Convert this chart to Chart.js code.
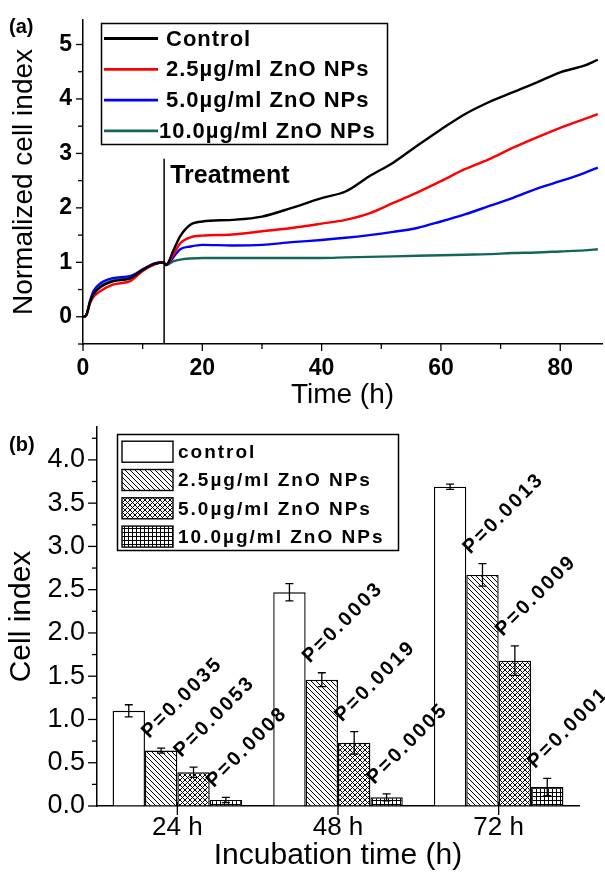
<!DOCTYPE html>
<html>
<head>
<meta charset="utf-8">
<script src="https://cdn.jsdelivr.net/npm/chart.js@4.4.1/dist/chart.umd.min.js"></script>
<style>
  html, body { margin: 0; padding: 0; background: #fff; }
  #wrap { position: relative; width: 605px; height: 873px; overflow: hidden; }
  canvas { position: absolute; left: 0; }
</style>
</head>
<body>
<div id="wrap">
  <canvas id="chartA" width="605" height="420" style="top:0"></canvas>
  <canvas id="chartB" width="605" height="453" style="top:420px"></canvas>
</div>
<script>
// ---- panel (a): normalized cell index over time ----
const hours     = [0, 0.5, 1.2, 1.8, 3, 5, 8, 10, 12, 13.5, 13.9, 15.2, 16.3, 18, 20, 25, 30, 35, 40, 44, 48, 52, 56, 60, 64, 68, 72, 76, 80, 84, 86.3];
const ciControl = [0, 0.02, 0.28, 0.42, 0.55, 0.65, 0.71, 0.86, 0.97, 1.0, 0.95, 1.23, 1.48, 1.69, 1.75, 1.78, 1.84, 2.0, 2.18, 2.3, 2.58, 2.83, 3.14, 3.44, 3.72, 3.94, 4.12, 4.3, 4.49, 4.61, 4.72];
const ci25      = [0, 0.02, 0.25, 0.37, 0.48, 0.59, 0.66, 0.84, 0.96, 1.0, 0.95, 1.15, 1.35, 1.46, 1.49, 1.51, 1.57, 1.63, 1.71, 1.78, 1.9, 2.09, 2.28, 2.49, 2.71, 2.89, 3.1, 3.29, 3.47, 3.63, 3.72];
const ci50      = [0, 0.02, 0.3, 0.48, 0.62, 0.71, 0.75, 0.87, 0.98, 1.0, 0.95, 1.1, 1.24, 1.29, 1.32, 1.31, 1.32, 1.37, 1.41, 1.45, 1.5, 1.56, 1.63, 1.75, 1.88, 2.03, 2.18, 2.35, 2.49, 2.64, 2.74];
const ci100     = [0, 0.02, 0.28, 0.44, 0.57, 0.67, 0.72, 0.86, 0.97, 1.0, 0.95, 1.02, 1.05, 1.07, 1.08, 1.08, 1.08, 1.08, 1.08, 1.09, 1.1, 1.11, 1.12, 1.13, 1.14, 1.15, 1.17, 1.18, 1.2, 1.22, 1.24];
const lineLabels = ['Control', '2.5µg/ml ZnO NPs', '5.0µg/ml ZnO NPs', '10.0µg/ml ZnO NPs'];
const treatmentTime = 13.6;
const treatmentTop = 2.9;

// ---- panel (b): cell index at 24/48/72 h ----
const timePoints = ['24 h', '48 h', '72 h'];
const barLabels = ['control', '2.5µg/ml ZnO NPs', '5.0µg/ml ZnO NPs', '10.0µg/ml ZnO NPs'];
const barControl = [1.10, 2.47, 3.69];
const bar25      = [0.64, 1.46, 2.67];
const bar50      = [0.39, 0.73, 1.68];
const bar100     = [0.07, 0.10, 0.22];
const errControl = [0.07, 0.10, 0.03];
const err25      = [0.03, 0.08, 0.13];
const err50      = [0.06, 0.13, 0.17];
const err100     = [0.03, 0.04, 0.10];
const pValues25  = ['P=0.0035', 'P=0.0003', 'P=0.0013'];
const pValues50  = ['P=0.0053', 'P=0.0019', 'P=0.0009'];
const pValues100 = ['P=0.0008', 'P=0.0005', 'P=0.0001'];

const FONT = "'Liberation Sans', Arial, sans-serif";
const BLACK = '#000';

function spaced(ctx, px) { if ('letterSpacing' in ctx) ctx.letterSpacing = px + 'px'; }

// fixed axis boxes so the plot areas land where the figure has them
function fixBox(w, h) {
  return s => {
    if (w != null) s.width = w;
    if (h != null) s.height = h;
    s.paddingTop = s.paddingBottom = s.paddingLeft = s.paddingRight = 0;
  };
}
function keepStep(step) {
  return s => { s.ticks = s.ticks.filter(t => Math.abs(t.value / step - Math.round(t.value / step)) < 1e-6); };
}

// tick marks: long where labelled, short otherwise
const tickMarks = {
  id: 'tickMarks',
  afterDraw(chart, args, opts) {
    const { ctx } = chart;
    ctx.save();
    ctx.strokeStyle = BLACK;
    ctx.lineWidth = 1.3;
    Object.values(chart.scales).forEach(s => {
      s.ticks.forEach((t, i) => {
        const len = t.label !== '' ? opts.major : opts.minor;
        const p = s.getPixelForTick(i);
        ctx.beginPath();
        if (s.isHorizontal()) { ctx.moveTo(p, s.top - opts.cross); ctx.lineTo(p, s.top + len); }
        else { ctx.moveTo(s.right, p); ctx.lineTo(s.right - len, p); }
        ctx.stroke();
      });
    });
    ctx.restore();
  }
};

function lineSet(label, values, color) {
  return {
    label, borderColor: color, backgroundColor: color,
    data: hours.map((h, i) => ({ x: h, y: values[i] }))
  };
}

const panelA = {
  id: 'panelA',
  afterDatasetsDraw(chart) {
    const { ctx, scales: { x, y } } = chart;
    ctx.save();
    // treatment marker
    const tx = x.getPixelForValue(treatmentTime);
    ctx.strokeStyle = BLACK;
    ctx.lineWidth = 1.5;
    ctx.beginPath();
    ctx.moveTo(tx, y.getPixelForValue(treatmentTop));
    ctx.lineTo(tx, y.bottom);
    ctx.stroke();
    ctx.fillStyle = BLACK;
    ctx.font = 'bold 25px ' + FONT;
    ctx.textBaseline = 'alphabetic';
    ctx.fillText('Treatment', tx + 6, 183);

    // legend box
    ctx.lineWidth = 1.5;
    ctx.strokeRect(101.5, 23.5, 286, 121);
    ctx.font = 'bold 22px ' + FONT;
    spaced(ctx, 1);
    ctx.textBaseline = 'middle';
    chart.data.datasets.forEach((ds, i) => {
      const ly = 38.5 + i * 30.8;
      ctx.strokeStyle = ds.borderColor;
      ctx.lineWidth = 2.8;
      ctx.beginPath(); ctx.moveTo(104, ly); ctx.lineTo(158, ly); ctx.stroke();
      ctx.fillText(ds.label, i === 3 ? 159 : 166, ly + 1);
    });
    spaced(ctx, 0);
    ctx.font = 'bold 20px ' + FONT;
    ctx.textBaseline = 'alphabetic';
    ctx.fillText('(a)', 9, 33);
    ctx.restore();
  }
};

new Chart(document.getElementById('chartA'), {
  type: 'line',
  data: {
    datasets: [
      lineSet(lineLabels[0], ciControl, '#000000'),
      lineSet(lineLabels[1], ci25, '#ff0000'),
      lineSet(lineLabels[2], ci50, '#0000ff'),
      lineSet(lineLabels[3], ci100, '#14665c')
    ]
  },
  options: {
    responsive: false,
    animation: false,
    devicePixelRatio: 1,
    layout: { padding: { top: 20, right: 3, left: 0, bottom: 0 } },
    plugins: { legend: { display: false }, tooltip: { enabled: false }, tickMarks: { major: 7, minor: 5, cross: 0 } },
    elements: { point: { radius: 0 }, line: { borderWidth: 2.4, cubicInterpolationMode: 'monotone' } },
    scales: {
      x: {
        type: 'linear', min: 0, max: 87,
        afterFit: fixBox(null, 76),
        afterBuildTicks: keepStep(10),
        ticks: {
          stepSize: 10, includeBounds: false, maxTicksLimit: 100, autoSkip: false, maxRotation: 0, padding: 11, color: BLACK,
          font: { family: FONT, size: 23, weight: 'bold' },
          callback: v => (Math.round(v) % 20 === 0 ? String(Math.round(v)) : '')
        },
        grid: { drawOnChartArea: false, drawTicks: false },
        border: { color: BLACK, width: 1.5 },
        title: { display: true, text: 'Time (h)', color: BLACK, font: { family: FONT, size: 28 }, padding: { top: 0, bottom: 8 } }
      },
      y: {
        min: -0.5, max: 5.45,
        afterFit: fixBox(83, null),
        afterBuildTicks: keepStep(0.5),
        ticks: {
          stepSize: 0.5, includeBounds: false, maxTicksLimit: 100, autoSkip: false, padding: 11, color: BLACK,
          font: { family: FONT, size: 23, weight: 'bold' },
          callback: v => (Math.abs(v - Math.round(v)) < 1e-6 ? String(Math.round(v)) : '')
        },
        grid: { drawOnChartArea: false, drawTicks: false },
        border: { color: BLACK, width: 1.5 },
        title: { display: true, text: 'Normalized cell index', color: BLACK, font: { family: FONT, size: 28 }, padding: { top: 7, bottom: 0 } }
      }
    }
  },
  plugins: [panelA, tickMarks]
});

// ---- hatch fills for panel (b) ----
function hatch(kind) {
  const s = kind === 'grid' ? 4 : 5;
  const c = document.createElement('canvas');
  c.width = s; c.height = s;
  const g = c.getContext('2d');
  g.fillStyle = '#fff';
  g.fillRect(0, 0, s, s);
  g.strokeStyle = BLACK;
  g.lineWidth = 1;
  g.beginPath();
  if (kind === 'back' || kind === 'cross') {
    for (let k = -1; k <= 1; k++) { g.moveTo(k * s, 0); g.lineTo(k * s + s, s); }
  }
  if (kind === 'cross') {
    for (let k = -1; k <= 1; k++) { g.moveTo(k * s, s); g.lineTo(k * s + s, 0); }
  }
  if (kind === 'grid') {
    g.moveTo(0.5, 0); g.lineTo(0.5, s);
    g.moveTo(0, 0.5); g.lineTo(s, 0.5);
  }
  g.stroke();
  return g.createPattern(c, 'repeat');
}

function barSet(label, values, errors, fill, pLabels) {
  return {
    label, data: values, errors, pLabels,
    backgroundColor: fill, borderColor: BLACK, borderWidth: 1.4
  };
}

const panelB = {
  id: 'panelB',
  afterDatasetsDraw(chart) {
    const { ctx, scales: { y } } = chart;
    ctx.save();
    ctx.strokeStyle = BLACK;
    ctx.fillStyle = BLACK;
    ctx.lineWidth = 1.3;
    chart.data.datasets.forEach((ds, di) => {
      const meta = chart.getDatasetMeta(di);
      meta.data.forEach((bar, i) => {
        const v = ds.data[i], e = ds.errors[i];
        const yt = y.getPixelForValue(v + e), yb = y.getPixelForValue(v - e);
        ctx.beginPath();
        ctx.moveTo(bar.x, yt); ctx.lineTo(bar.x, yb);
        ctx.moveTo(bar.x - 4, yt); ctx.lineTo(bar.x + 4, yt);
        ctx.moveTo(bar.x - 4, yb); ctx.lineTo(bar.x + 4, yb);
        ctx.stroke();
        if (ds.pLabels) {
          ctx.save();
          ctx.translate(bar.x - bar.width / 2 + 4, yt - 9);
          ctx.rotate(-Math.PI / 4);
          ctx.font = 'bold 20px ' + FONT;
          spaced(ctx, 2.4);
          ctx.textBaseline = 'alphabetic';
          ctx.fillText(ds.pLabels[i], 0, 0);
          ctx.restore();
        }
      });
    });

    // legend box
    ctx.lineWidth = 1.5;
    ctx.strokeRect(117.5, 14.5, 281, 116);
    ctx.font = 'bold 19px ' + FONT;
    spaced(ctx, 2);
    ctx.textBaseline = 'middle';
    chart.data.datasets.forEach((ds, i) => {
      const ly = 31.7 + i * 28.3;
      ctx.fillStyle = ds.backgroundColor;
      ctx.fillRect(122, ly - 10.5, 51, 21);
      ctx.lineWidth = 1.4;
      ctx.strokeRect(122, ly - 10.5, 51, 21);
      ctx.fillStyle = BLACK;
      ctx.fillText(ds.label, 178, ly + 1);
    });
    spaced(ctx, 0);
    ctx.font = 'bold 20px ' + FONT;
    ctx.textBaseline = 'alphabetic';
    ctx.fillText('(b)', 9, 31);
    ctx.restore();
  }
};

new Chart(document.getElementById('chartB'), {
  type: 'bar',
  data: {
    labels: timePoints,
    datasets: [
      barSet(barLabels[0], barControl, errControl, '#ffffff', null),
      barSet(barLabels[1], bar25, err25, hatch('back'), pValues25),
      barSet(barLabels[2], bar50, err50, hatch('cross'), pValues50),
      barSet(barLabels[3], bar100, err100, hatch('grid'), pValues100)
    ]
  },
  options: {
    responsive: false,
    animation: false,
    devicePixelRatio: 1,
    layout: { padding: { top: 7, right: 26, left: 0, bottom: 0 } },
    datasets: { bar: { categoryPercentage: 0.806, barPercentage: 1.0, borderSkipped: 'start' } },
    plugins: { legend: { display: false }, tooltip: { enabled: false }, tickMarks: { major: 9, minor: 5, cross: 4 } },
    scales: {
      x: {
        afterFit: fixBox(null, 67),
        offset: true,
        ticks: { padding: 6, color: BLACK, font: { family: FONT, size: 26 } },
        grid: { drawOnChartArea: false, drawTicks: false, offset: false },
        border: { color: BLACK, width: 1.5 },
        title: { display: true, text: 'Incubation time (h)', color: BLACK, font: { family: FONT, size: 30 }, padding: { top: 0, bottom: -1 } }
      },
      y: {
        min: 0, max: 4.38,
        afterFit: fixBox(97, null),
        afterBuildTicks: keepStep(0.25),
        ticks: {
          stepSize: 0.25, includeBounds: false, maxTicksLimit: 100, autoSkip: false, padding: 12, color: BLACK,
          font: { family: FONT, size: 27 },
          callback: v => (Math.abs(v * 2 - Math.round(v * 2)) < 1e-6 ? v.toFixed(1) : '')
        },
        grid: { drawOnChartArea: false, drawTicks: false },
        border: { color: BLACK, width: 1.5 },
        title: { display: true, text: 'Cell index', color: BLACK, font: { family: FONT, size: 30 }, padding: { top: 4, bottom: 0 } }
      }
    }
  },
  plugins: [panelB, tickMarks]
});
</script>
</body>
</html>
